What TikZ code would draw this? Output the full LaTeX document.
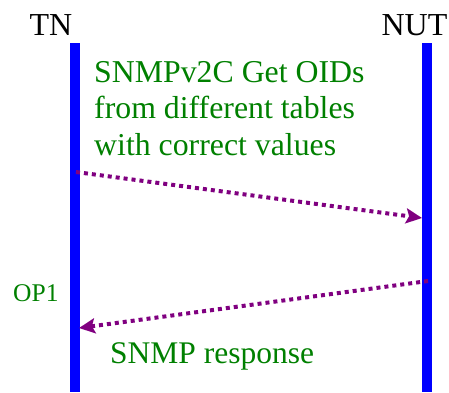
\documentclass[tikz,border=0pt]{standalone}
\usepackage{fontspec}
\setmainfont{Liberation Serif}
\usetikzlibrary{arrows.meta}
\definecolor{lifeblue}{RGB}{0,0,255}
\definecolor{msggreen}{RGB}{0,128,0}
\definecolor{msgpurple}{RGB}{128,0,128}
\tikzset{
  lifeline/.style={fill=lifeblue, draw=none},
  actor/.style={font=\fontsize{32}{36}\selectfont, inner sep=0pt, anchor=base},
  msgtext/.style={font=\fontsize{31.8}{36.5}\selectfont, text=msggreen, inner sep=0pt, align=left},
  msgarrow/.style={draw=msgpurple, line width=4pt, dash pattern=on 4pt off 4pt,
    -{Stealth[length=16pt,width=15pt,inset=3pt]}}
}
\begin{document}
\begin{tikzpicture}[x=1pt,y=-1pt]
\useasboundingbox (0,0) rectangle (449,392);
% lifelines
\fill[lifeline] (69.5,43) rectangle (80,392);
\fill[lifeline] (421.5,43) rectangle (432,392);
% actors
\node[actor] (tn) at (51,35) {TN};
\node[actor] (nut) at (414.5,35) {NUT};
% anchor points on lifelines
\coordinate (s1) at (76,172);
\coordinate (e1) at (422,218);
\coordinate (s2) at (428,281);
\coordinate (e2) at (79,328);
% texts
\node[msgtext, anchor=base west] (req) at (94,155) {SNMPv2C Get OIDs\\from different tables\\with correct values};
\node[font=\fontsize{25.5}{28}\selectfont, text=msggreen, inner sep=0pt, anchor=base west] (op) at (13,301) {OP1};
\node[msgtext, font=\fontsize{31.5}{36}\selectfont, anchor=base west] (resp) at (110,363) {SNMP response};
% messages
\draw[msgarrow] (s1) -- (e1);
\draw[msgarrow] (s2) -- (e2);
\end{tikzpicture}
\end{document}
